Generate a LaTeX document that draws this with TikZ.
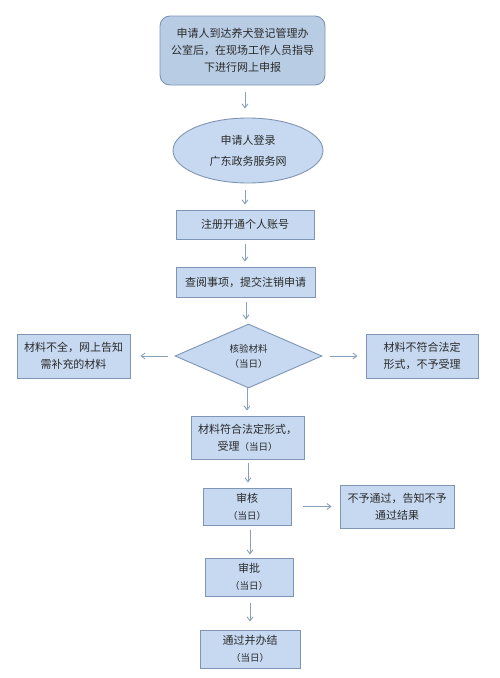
\documentclass[tikz,border=0pt]{standalone}
\usepackage{fontspec}
\setmainfont{Noto Sans CJK SC}
\usetikzlibrary{shapes.geometric,arrows.meta}
\definecolor{boxfill}{HTML}{C6D9F0}
\definecolor{topfill}{HTML}{B8CCE4}
\definecolor{edge}{HTML}{7F95B4}
\definecolor{arr}{HTML}{8AA0BA}
\definecolor{txt}{HTML}{2A2A2A}
\begin{document}
\begin{tikzpicture}[x=1pt,y=-1pt,
  base/.style={draw=edge,line width=0.9pt,fill=boxfill,text=txt,align=center,inner sep=0pt,font=\fontsize{11}{17}\selectfont},
  conn/.style={draw=arr,line width=0.9pt,-{Straight Barb[length=4pt,width=6pt]}}]
\useasboundingbox (0,0) rectangle (500,678);
\node[base,fill=topfill,rounded corners=10pt,minimum width=165pt,minimum height=69pt] (n1) at (242.5,50.5) {申请人到达养犬登记管理办\\公室后，在现场工作人员指导\\下进行网上申报};
\node[base,ellipse,minimum width=150pt,minimum height=65pt,font=\fontsize{11}{21}\selectfont] (n2) at (248,150.5) {申请人登录\\广东政务服务网};
\node[base,minimum width=138pt,minimum height=29pt] (n3) at (245,224.5) {注册开通个人账号};
\node[base,minimum width=139pt,minimum height=30pt] (n4) at (245.5,282) {查阅事项，提交注销申请};
\node[base,diamond,aspect=2.3,minimum width=147pt,minimum height=64pt,font=\fontsize{9.5}{15}\selectfont] (n5) at (248.5,356) {核验材料\\（当日）};
\node[base,minimum width=113pt,minimum height=44pt] (l) at (73.5,356) {材料不全，网上告知\\需补充的材料};
\node[base,minimum width=112pt,minimum height=44pt] (r) at (422,356) {材料不符合法定\\形式，不予受理};
\node[base,minimum width=113pt,minimum height=43pt] (n6) at (247.5,437.5) {材料符合法定形式，\\受理{\fontsize{9.5}{15}\selectfont（当日）}};
\node[base,minimum width=88pt,minimum height=37pt] (n7) at (247,506.5) {审核\\{\fontsize{9.5}{15}\selectfont（当日）}};
\node[base,minimum width=114pt,minimum height=43pt] (n8) at (397,506.5) {不予通过，告知不予\\通过结果};
\node[base,minimum width=88pt,minimum height=38pt] (n9) at (249,577) {审批\\{\fontsize{9.5}{15}\selectfont（当日）}};
\node[base,minimum width=100pt,minimum height=38pt] (n10) at (250,649) {通过并办结\\{\fontsize{9.5}{15}\selectfont（当日）}};
\draw[conn] ([yshift=-7pt]n1.south -| 245,0) -- ([yshift=9pt]n2.north -| 245,0);
\draw[conn] ([yshift=-7pt]n2.south -| 245,0) -- ([yshift=5pt]n3.north -| 245,0);
\draw[conn] ([yshift=-5pt]n3.south -| 245,0) -- ([yshift=5pt]n4.north -| 245,0);
\draw[conn] ([yshift=-5pt]n4.south -| 246,0) -- ([yshift=4pt]n5.north -| 246,0);
\draw[conn] ([xshift=-7pt]n5.west) -- ([xshift=10pt]l.east);
\draw[conn] ([xshift=8pt]n5.east) -- ([xshift=-8pt]r.west);
\draw[conn] (n5.south -| 247,0) -- ([yshift=5pt]n6.north -| 247,0);
\draw[conn] ([yshift=-4pt]n6.south -| 248,0) -- ([yshift=5pt]n7.north -| 248,0);
\draw[conn] ([xshift=12pt]n7.east) -- ([xshift=-8pt]n8.west);
\draw[conn] ([yshift=-5pt]n7.south -| 250,0) -- ([yshift=3pt]n9.north -| 250,0);
\draw[conn] ([yshift=-7pt]n9.south -| 250,0) -- ([yshift=8pt]n10.north -| 250,0);
\end{tikzpicture}
\end{document}
